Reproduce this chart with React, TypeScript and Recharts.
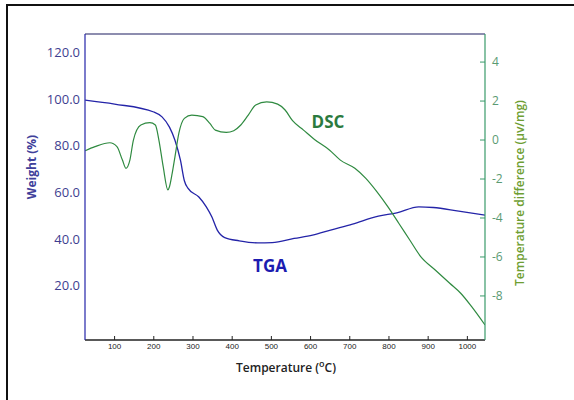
import { ComposedChart, Line, XAxis, YAxis, ReferenceLine } from "recharts";

const tgaTemp = [25, 100, 200, 221, 240, 254, 268, 278, 287, 315, 334, 348, 362, 381, 418, 465, 502, 558, 605, 651, 707, 773, 820, 876, 913, 978, 1045];
const tgaWeight = [99.6, 97.9, 94.5, 92.4, 88, 82.4, 73.8, 65, 61.8, 58, 53.8, 49.5, 43.8, 40.6, 39.2, 38.3, 38.4, 40.2, 41.6, 43.8, 46.4, 49.8, 51.2, 53.8, 53.5, 51.9, 50.2];

// DSC curve: temperature (°C) and temperature difference (µv/mg)
const dscTemp = [25, 50, 88, 106, 120, 129, 139, 148, 167, 190, 204, 213, 224, 236, 240, 247, 254, 264, 278, 297, 325, 343, 357, 385, 404, 422, 441, 460, 488, 516, 535, 554, 582, 610, 648, 676, 713, 741, 769, 797, 825, 853, 881, 918, 955, 983, 1011, 1045];
const dscDiff = [-0.55, -0.34, -0.14, -0.34, -1.03, -1.45, -1.03, 0, 0.77, 0.89, 0.77, 0, -1.37, -2.56, -2.4, -1.7, -0.86, 0.35, 1.11, 1.28, 1.2, 0.85, 0.51, 0.39, 0.48, 0.77, 1.28, 1.8, 1.96, 1.84, 1.54, 0.99, 0.51, 0.03, -0.51, -1.03, -1.45, -1.97, -2.65, -3.42, -4.27, -5.13, -5.98, -6.67, -7.35, -7.86, -8.55, -9.49];

const tempTicks = [100, 200, 300, 400, 500, 600, 700, 800, 900, 1000];
const weightTicks = [20, 40, 60, 80, 100, 120];
const diffTicks = [-8, -6, -4, -2, 0, 2, 4];

const tga = tgaTemp.map((t, i) => ({ t, w: tgaWeight[i] }));
const dsc = dscTemp.map((t, i) => ({ t, d: dscDiff[i] }));

const BLUE = "#2424a8";
const GREEN = "#2f8a40";

export default function App() {
  return (
    <div style={{ position: "absolute", left: 0, top: 0, width: 574, height: 400, background: "#fff" }}>
      <div
        style={{
          position: "absolute",
          left: 6,
          top: 4,
          width: 568,
          height: 396,
          borderTop: "2px solid #111",
          borderLeft: "2px solid #111",
        }}
      />
      <ComposedChart
        width={574}
        height={400}
        margin={{ top: 34, right: 29, bottom: 30, left: 25 }}
        style={{ position: "absolute", left: 0, top: 0 }}
      >
        <XAxis
          dataKey="t"
          type="number"
          domain={[24.5, 1045]}
          allowDataOverflow
          ticks={tempTicks}
          height={30}
          tickSize={-4}
          tickMargin={7}
          axisLine={{ stroke: "#222", strokeWidth: 1.5 }}
          tickLine={{ stroke: "#222" }}
          tick={{ fontSize: 8, fill: "#222", fontFamily: "Liberation Sans" }}
        />
        <YAxis
          yAxisId="left"
          type="number"
          domain={[-3.4, 128]}
          allowDataOverflow
          ticks={weightTicks}
          width={60}
          tickSize={0}
          tickMargin={5}
          tickLine={false}
          tickFormatter={(v: number) => v.toFixed(1)}
          axisLine={{ stroke: BLUE, strokeWidth: 1.2 }}
          tick={{ fontSize: 13, fill: "#3e3e90", fontFamily: "Open Sans" }}
        />
        <YAxis
          yAxisId="right"
          orientation="right"
          type="number"
          domain={[-10.26, 5.44]}
          allowDataOverflow
          ticks={diffTicks}
          width={60}
          tickSize={-5}
          tickMargin={12}
          axisLine={{ stroke: "#3a9a6a", strokeWidth: 1.2 }}
          tickLine={{ stroke: "#3a9a6a" }}
          tick={{ fontSize: 12, fill: "#5a9a72", fontFamily: "Open Sans" }}
        />
        <ReferenceLine yAxisId="left" y={128} stroke="#1c1c60" strokeWidth={1.2} />
        <Line
          yAxisId="left"
          data={tga}
          dataKey="w"
          type="monotone"
          stroke={BLUE}
          strokeWidth={1.3}
          dot={false}
          isAnimationActive={false}
        />
        <Line
          yAxisId="right"
          data={dsc}
          dataKey="d"
          type="monotone"
          stroke={GREEN}
          strokeWidth={1.2}
          dot={false}
          isAnimationActive={false}
        />
      </ComposedChart>
      <svg
        width={574}
        height={400}
        style={{ position: "absolute", left: 0, top: 0, pointerEvents: "none" }}
        fontFamily="Open Sans"
      >
        <text x={31} y={167} transform="rotate(-90 31 167)" textAnchor="middle" dominantBaseline="central" fontSize={12} fontWeight={700} fill="#40409a">
          Weight (%)
        </text>
        <text x={519} y={193} transform="rotate(-90 519 193)" textAnchor="middle" dominantBaseline="central" fontSize={12} fontWeight={600} fill="#6e9e32">
          Temperature difference (µv/mg)
        </text>
        <text x={328} y={128} textAnchor="middle" fontSize={17} fontWeight={700} fill="#2b7a3e">
          DSC
        </text>
        <text x={270} y={272} textAnchor="middle" fontSize={17} fontWeight={700} fill="#1c1cb0">
          TGA
        </text>
        <text x={286} y={372} textAnchor="middle" fontSize={12} fontWeight={600} fill="#222">
          Temperature (<tspan fontSize={9} dy={-5}>o</tspan>
          <tspan dy={5}>C)</tspan>
        </text>
      </svg>
    </div>
  );
}
